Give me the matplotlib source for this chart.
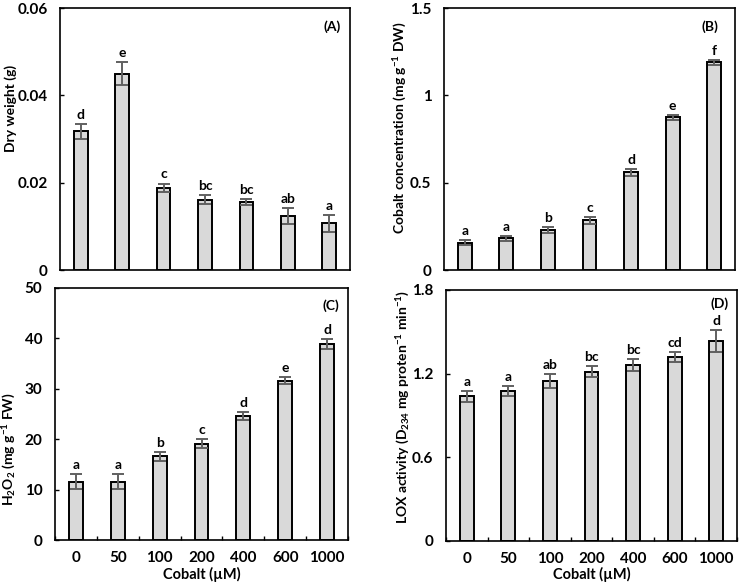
import matplotlib
matplotlib.use("Agg")
import matplotlib.pyplot as plt
import numpy as np

plt.rcParams['font.family'] = ['Lato', 'DejaVu Sans']
plt.rcParams['font.weight'] = 'bold'
plt.rcParams['mathtext.fontset'] = 'custom'
plt.rcParams['mathtext.rm'] = 'Lato:bold'
plt.rcParams['mathtext.it'] = 'Lato:bold'
plt.rcParams['mathtext.bf'] = 'Lato:bold'
plt.rcParams['axes.unicode_minus'] = False

categories = ["0", "50", "100", "200", "400", "600", "1000"]

dry_weight = [0.0318, 0.0450, 0.0188, 0.0161, 0.0156, 0.0124, 0.0107]
dry_weight_err = [0.0017, 0.0027, 0.0010, 0.0010, 0.0006, 0.0018, 0.0019]
dry_weight_letters = ["d", "e", "c", "bc", "bc", "ab", "a"]

cobalt_conc = [0.156, 0.181, 0.229, 0.284, 0.559, 0.874, 1.189]
cobalt_conc_err = [0.015, 0.015, 0.018, 0.019, 0.019, 0.015, 0.015]
cobalt_conc_letters = ["a", "a", "b", "c", "d", "e", "f"]

h2o2 = [11.6, 11.6, 16.6, 19.1, 24.6, 31.6, 38.9]
h2o2_err = [1.5, 1.5, 0.9, 0.9, 0.7, 0.7, 1.0]
h2o2_letters = ["a", "a", "b", "c", "d", "e", "d"]

lox = [1.037, 1.076, 1.150, 1.214, 1.265, 1.320, 1.434]
lox_err = [0.040, 0.034, 0.050, 0.041, 0.043, 0.034, 0.080]
lox_letters = ["a", "a", "ab", "bc", "bc", "cd", "d"]

W, H = 744, 584
fig = plt.figure(figsize=(W / 100, H / 100), dpi=100)


def rect(l, r, t, b):
    return [l / W, 1 - b / H, (r - l) / W, (b - t) / H]


panels = [
    dict(pos=rect(60, 350, 8, 270), vals=dry_weight, err=dry_weight_err, let=dry_weight_letters,
         ylim=(0, 0.06), yticks=[0, 0.02, 0.04, 0.06], yticklabels=["0", "0.02", "0.04", "0.06"],
         ylabel="Dry weight (g)", ylab_xy=(-0.169, 0.618), tag="(A)", tagpos=(0.94, 0.93), bottom=False),
    dict(pos=rect(444, 735, 8, 270), vals=cobalt_conc, err=cobalt_conc_err, let=cobalt_conc_letters,
         ylim=(0, 1.5), yticks=[0, 0.5, 1.0, 1.5], yticklabels=["0", "0.5", "1", "1.5"],
         ylabel=r"Cobalt concentration (mg g$^{-1}$ DW)", ylab_xy=(-0.15, 0.542),
         tag="(B)", tagpos=(0.915, 0.93), bottom=False),
    dict(pos=rect(55, 348, 288, 540), vals=h2o2, err=h2o2_err, let=h2o2_letters,
         ylim=(0, 50), yticks=[0, 10, 20, 30, 40, 50], yticklabels=["0", "10", "20", "30", "40", "50"],
         ylabel=r"H$_2$O$_2$ (mg g$^{-1}$ FW)", ylab_xy=(-0.157, 0.361),
         tag="(C)", tagpos=(0.94, 0.93), bottom=True),
    dict(pos=rect(446, 737, 290, 541), vals=lox, err=lox_err, let=lox_letters,
         ylim=(0, 1.8), yticks=[0, 0.6, 1.2, 1.8], yticklabels=["0", "0.6", "1.2", "1.8"],
         ylabel=r"LOX activity (D$_{234}$ mg proten$^{-1}$ min$^{-1}$)", ylab_xy=(-0.148, 0.534),
         tag="(D)", tagpos=(0.94, 0.945), bottom=True),
]

x = np.arange(len(categories))
for p in panels:
    ax = fig.add_axes(p["pos"])
    ax.bar(x, p["vals"], width=0.33, color="#d9d9d9", edgecolor="black", linewidth=1.4, zorder=2)
    ax.errorbar(x, p["vals"], yerr=p["err"], fmt="none", ecolor="#606060", elinewidth=1.4,
                capsize=4, capthick=1.4, zorder=3)
    span = p["ylim"][1] - p["ylim"][0]
    for xi, v, e, l in zip(x, p["vals"], p["err"], p["let"]):
        ax.text(xi, v + e + span * 0.012, l, ha="center", va="bottom", fontsize=10, fontweight="bold")
    ax.set_xlim(-0.5, len(categories) - 0.5)
    ax.set_ylim(*p["ylim"])
    ax.set_yticks(p["yticks"])
    ax.set_yticklabels(p["yticklabels"], fontsize=11, fontweight="bold")
    ax.tick_params(axis="y", direction="in", length=3, width=1, pad=9)
    if p["bottom"]:
        ax.set_xticks(x)
        ax.set_xticklabels(categories, fontsize=11, fontweight="bold")
        ax.set_xticks(np.arange(len(categories) + 1) - 0.5, minor=True)
        ax.tick_params(axis="x", which="major", length=0, pad=8)
        ax.tick_params(axis="x", which="minor", direction="in", length=3, width=1)
        ax.set_xlabel("Cobalt (\u00b5M)", fontsize=10.5, fontweight="bold")
        ax.xaxis.set_label_coords(0.5, -0.105)
    else:
        ax.set_xticks([])
    ax.set_ylabel(p["ylabel"], fontsize=10, fontweight="bold", va="center")
    ax.yaxis.set_label_coords(*p["ylab_xy"])
    for s in ax.spines.values():
        s.set_linewidth(1.2)
    ax.text(p["tagpos"][0], p["tagpos"][1], p["tag"], transform=ax.transAxes, ha="center", va="center",
            fontsize=10, fontweight="bold")

fig.savefig("out.png", dpi=100)
